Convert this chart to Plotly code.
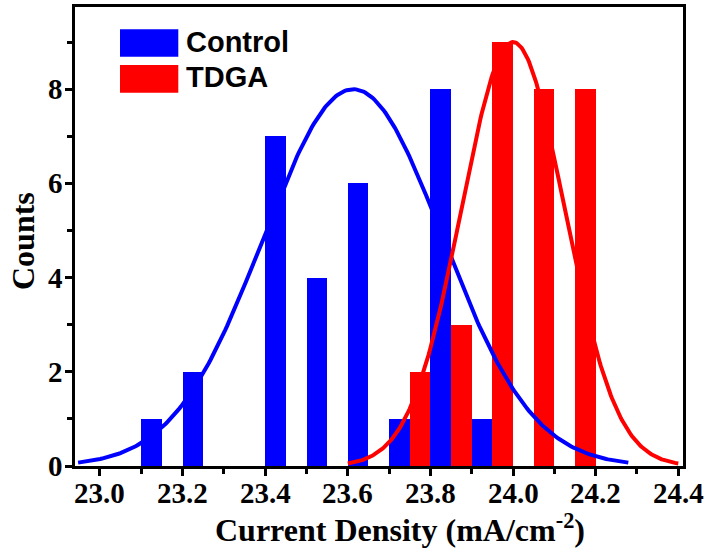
import numpy as np
import plotly.graph_objects as go

# Histogram bins (left edges, width 0.05) and counts
control_bins = [23.10, 23.20, 23.40, 23.50, 23.60, 23.70, 23.80, 23.90]
control_counts = [1, 2, 7, 4, 6, 1, 8, 1]
tdga_bins = [23.75, 23.85, 23.95, 24.05, 24.15]
tdga_counts = [2, 3, 9, 8, 8]
bin_width = 0.05

# Gaussian fit parameters: amplitude, centre, sigma, drawn span
control_fit = dict(amp=8.0, mu=23.613, sigma=0.217, lo=22.947, hi=24.279)
tdga_fit = dict(amp=9.0, mu=24.0, sigma=0.125, lo=23.60, hi=24.40)

x_ticks = [23.0, 23.2, 23.4, 23.6, 23.8, 24.0, 24.2, 24.4]
x_tick_text = ["23.0", "23.2", "23.4", "23.6", "23.8", "24.0", "24.2", "24.4"]
y_ticks = [0, 2, 4, 6, 8]
y_tick_text = ["0", "2", "4", "6", "8"]

x_title = "Current Density (mA/cm<sup>-2</sup>)"
y_title = "Counts"

BLUE = "#0000ff"
RED = "#ff0000"

SERIF = "Liberation Serif"
SANS = "Liberation Sans"


def gauss_curve(p):
    xs = np.linspace(p["lo"], p["hi"], 300)
    ys = p["amp"] * np.exp(-((xs - p["mu"]) ** 2) / (2 * p["sigma"] ** 2))
    return xs, ys


W, H = 709, 558
L, R, T, B = 75, 26, 7, 92
pw, ph = W - L - R, H - T - B


def px_x(x):
    return (x - L) / pw


def px_y(y):
    return 1 - (y - T) / ph


axis_style = dict(
    showline=True, linecolor="black", linewidth=3, mirror=True,
    ticks="outside", tickcolor="black", tickwidth=3, ticklen=7,
    showgrid=False, zeroline=False, automargin=False,
    showticklabels=False, tickmode="array",
)

layout = go.Layout(
    template="none",
    width=W, height=H,
    margin=dict(l=L, r=R, t=T, b=B, autoexpand=False),
    plot_bgcolor="white", paper_bgcolor="white",
    font=dict(family=SERIF, size=28, color="black"),
    barmode="overlay", bargap=0,
    xaxis=dict(
        range=[22.9395, 24.4114], tickvals=x_ticks,
        minor=dict(dtick=0.1, tick0=23.0, ticks="outside", ticklen=5,
                   tickwidth=3, tickcolor="black", showgrid=False),
        **axis_style,
    ),
    yaxis=dict(
        range=[0, 9.745], tickvals=y_ticks,
        minor=dict(dtick=1, tick0=0, ticks="outside", ticklen=5,
                   tickwidth=3, tickcolor="black", showgrid=False),
        **axis_style,
    ),
)

fig = go.Figure(layout=layout)

fig.add_trace(go.Bar(
    x=[b + bin_width / 2 for b in control_bins], y=control_counts,
    width=bin_width, marker=dict(color=BLUE, line=dict(width=0)),
    name="Control", showlegend=False,
))
fig.add_trace(go.Bar(
    x=[b + bin_width / 2 for b in tdga_bins], y=tdga_counts,
    width=bin_width, marker=dict(color=RED, line=dict(width=0)),
    name="TDGA", showlegend=False,
))

cx, cy = gauss_curve(control_fit)
tx, ty = gauss_curve(tdga_fit)
fig.add_trace(go.Scatter(x=cx, y=cy, mode="lines",
                         line=dict(color=BLUE, width=4), showlegend=False))
fig.add_trace(go.Scatter(x=tx, y=ty, mode="lines",
                         line=dict(color=RED, width=4), showlegend=False))

tick_font = dict(family=SERIF, size=29, color="black", weight="bold")
title_font = dict(family=SERIF, size=32, color="black", weight="bold")

# Tick labels placed at the axis positions
for v, t in zip(x_ticks, x_tick_text):
    fig.add_annotation(text=t, x=v, xref="x", y=px_y(492.5), yref="paper",
                       xanchor="center", yanchor="middle", showarrow=False,
                       font=tick_font)
for v, t in zip(y_ticks, y_tick_text):
    fig.add_annotation(text=t, x=px_x(65), xref="paper", y=v, yref="y",
                       xanchor="right", yanchor="middle", showarrow=False,
                       font=tick_font)

# Axis titles
fig.add_annotation(text=x_title, x=px_x(400), xref="paper",
                   y=px_y(527.5), yref="paper", xanchor="center",
                   yanchor="middle", showarrow=False, font=title_font)
fig.add_annotation(text=y_title, x=px_x(22.5), xref="paper",
                   y=px_y(241.5), yref="paper", xanchor="center",
                   yanchor="middle", textangle=-90, showarrow=False,
                   font=title_font)

# Hand-built legend: colour blocks and labels in paper coordinates
legend_items = [("Control", BLUE, 29.3, 56.7, 41.7),
                ("TDGA", RED, 65.0, 92.7, 77.3)]
for label, col, y0, y1, ty_mid in legend_items:
    fig.add_shape(type="rect", xref="paper", yref="paper",
                  x0=px_x(120), x1=px_x(178.3), y0=px_y(y1), y1=px_y(y0),
                  fillcolor=col, line=dict(width=0))
    fig.add_annotation(text=label, xref="paper", yref="paper",
                       x=px_x(184), y=px_y(ty_mid),
                       xanchor="left", yanchor="middle", showarrow=False,
                       font=dict(family=SANS, size=29, color="black",
                                 weight="bold"))

fig.write_html("out.html")
